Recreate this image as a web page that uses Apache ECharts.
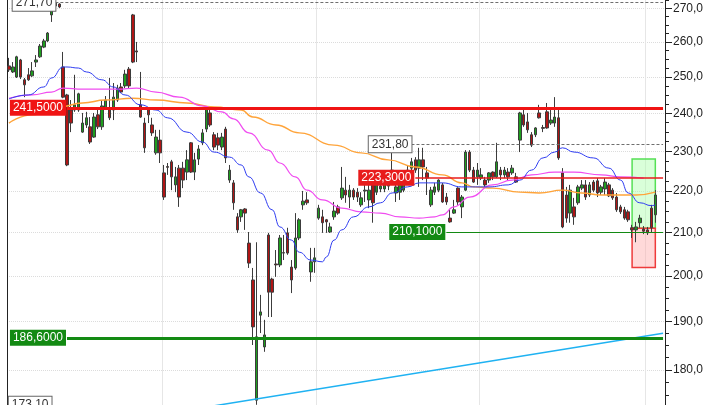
<!DOCTYPE html>
<html><head><meta charset="utf-8">
<script src="https://cdn.jsdelivr.net/npm/echarts@6/dist/echarts.min.js"></script>
<style>html,body{margin:0;padding:0;background:#fff}#c{width:720px;height:405px}</style>
</head><body><div id="c"></div>
<script>
const categories = Array.from({length: 170}, (_, i) => 'B' + (i + 1));

// [open, close, low, high]
const candles = [
[253.1,252.0,251.4,255.4],[251.4,252.8,251.1,254.2],[250.0,255.7,249.7,256.0],[254.8,250.0,249.4,255.1],
[249.2,247.8,244.4,249.7],[250.6,249.2,248.9,252.5],[250.3,251.7,250.0,254.2],[254.2,254.8,252.8,256.2],
[255.7,258.8,255.4,259.4],[258.5,260.3,258.2,260.9],[260.3,262.6,260.0,262.9],[268.0,269.5,265.9,270.1],
[271.6,270.7,270.1,271.7],[271.3,270.4,270.1,271.5],[252.8,244.4,244.1,257.1],[245.0,226.5,226.2,245.3],
[240.9,237.4,235.0,243.6],[240.9,242.3,240.4,250.6],[240.9,245.3,240.4,245.6],[235.0,237.4,234.8,240.1],
[236.9,238.8,236.1,240.4],[236.4,232.4,231.9,239.0],[233.7,239.0,233.5,240.1],[239.6,236.4,235.8,240.9],
[236.4,242.0,235.6,243.6],[241.4,243.6,240.9,244.7],[241.4,238.8,238.2,249.7],[240.9,244.4,238.2,248.3],
[243.6,246.9,243.1,247.8],[247.2,245.8,245.5,248.3],[247.5,250.8,246.9,252.0],[252.2,247.5,246.9,252.8],
[268.0,254.2,253.9,268.3],[257.4,257.1,254.2,260.0],[242.3,239.0,238.8,251.4],[237.4,230.9,229.6,238.8],
[241.4,239.6,237.4,241.7],[236.9,234.8,234.0,238.8],[229.6,233.7,229.1,235.6],[232.9,229.6,227.0,235.6],
[224.5,218.5,217.8,226.5],[226.1,225.9,224.0,227.0],[227.3,223.5,220.2,227.8],[221.5,223.5,219.7,226.0],
[225.7,218.5,216.1,226.5],[225.7,222.7,220.7,227.3],[224.7,227.8,222.7,230.3],[232.2,224.7,224.5,232.4],
[224.7,227.8,222.7,229.6],[228.0,230.6,226.5,231.6],[232.2,234.8,231.6,235.8],[235.8,241.2,235.0,241.7],
[240.1,236.9,236.4,241.7],[234.3,231.1,230.3,235.0],[233.5,231.6,230.3,234.8],[231.1,233.7,230.3,234.8],
[235.8,228.3,227.0,236.4],[222.7,225.2,222.0,226.5],[222.0,217.1,215.4,222.7],[213.7,210.6,209.9,214.6],
[213.7,215.4,212.5,215.6],[215.6,214.6,210.6,215.8],[207.5,202.9,201.8,210.1],[199.1,188.9,185.1,201.8],
[174.0,186.8,173.1,207.7],[191.4,192.1,187.6,195.8],[184.7,187.2,183.7,190.4],[209.4,196.4,191.0,209.9],
[199.3,196.4,191.0,199.6],[202.7,202.5,199.8,205.9],[202.5,208.7,202.0,209.4],[205.3,205.2,203.6,209.4],
[209.9,205.2,204.8,211.1],[202.0,199.1,196.2,203.6],[201.8,208.7,201.4,214.6],[208.7,213.0,208.2,213.4],
[216.6,217.5,215.4,220.0],[217.8,217.1,216.6,219.7],[200.9,203.2,198.7,206.4],[203.2,204.1,200.7,206.4],
[213.4,215.8,213.0,216.6],[213.7,212.3,209.9,215.4],[213.0,212.5,209.9,213.2],[210.1,211.3,209.9,212.3],
[213.7,215.1,213.0,217.3],[216.1,214.6,214.2,216.6],[218.3,220.7,217.8,226.0],[220.2,219.0,217.1,223.5],
[218.5,220.2,215.8,221.5],[220.2,218.5,217.8,220.7],[219.7,218.5,217.3,220.7],[216.6,218.3,216.1,219.7],
[220.0,220.2,217.3,221.5],[217.8,220.2,215.8,221.5],[221.5,217.1,212.3,221.7],[219.7,221.5,219.0,222.0],
[220.5,221.2,219.7,222.0],[220.5,222.0,219.7,222.7],[221.2,222.7,220.2,223.7],[223.7,225.2,223.2,229.6],
[219.5,221.0,217.3,224.0],[219.7,222.0,217.8,224.5],[220.2,222.7,219.7,223.7],[223.7,225.2,222.7,226.5],
[225.7,227.3,224.7,228.3],[227.8,225.2,224.5,228.5],[225.7,227.8,221.0,230.9],[227.8,226.0,222.7,230.9],
[224.5,223.2,219.0,226.0],[216.6,220.2,216.1,221.0],[219.7,221.0,219.0,222.0],[220.2,222.7,219.7,222.9],
[221.5,217.3,217.1,222.0],[218.5,217.3,216.6,219.5],[213.4,212.5,212.3,215.4],[214.6,215.4,214.4,217.8],
[220.7,217.3,216.6,220.9],[216.1,218.5,213.4,219.0],[220.2,229.8,220.0,230.3],[229.8,225.2,224.7,230.3],
[225.2,222.2,222.0,226.0],[223.5,225.2,221.5,227.0],[223.2,224.0,222.7,225.7],[222.7,221.5,221.0,223.5],
[222.7,224.5,222.0,224.7],[224.7,223.5,222.7,224.9],[223.5,227.3,223.2,232.2],[225.2,224.0,222.7,226.0],
[224.0,225.2,223.2,226.0],[224.7,223.5,222.7,225.7],[224.5,225.7,224.0,226.5],[223.5,222.2,222.0,224.5],
[232.9,240.1,229.8,240.4],[239.6,236.9,236.4,241.7],[237.7,235.6,234.8,240.1],[234.3,231.6,231.1,235.0],
[234.3,236.1,233.7,236.3],[240.1,238.8,238.6,242.3],[236.2,236.0,235.0,236.9],[240.4,236.1,235.9,242.8],
[237.4,238.2,236.9,240.9],[237.4,239.0,236.4,244.4],[238.8,228.3,227.8,240.9],[224.5,211.3,211.0,225.7],
[219.0,213.4,212.3,221.0],[214.6,220.2,212.3,221.5],[216.1,213.7,211.8,218.3],[217.1,221.0,216.6,221.5],
[220.7,221.5,220.2,222.7],[221.5,218.5,217.8,222.7],[219.0,221.5,218.5,222.2],[222.2,220.2,219.7,222.7],
[222.5,219.5,218.5,223.2],[219.7,221.0,219.0,221.5],[220.5,222.2,219.0,223.2],[221.5,218.8,218.5,222.0],
[220.2,218.3,217.8,220.7],[218.5,215.4,214.9,219.5],[216.1,214.9,214.4,216.6],[215.4,213.4,213.0,216.1],
[214.9,213.0,212.5,215.4],[211.1,210.6,208.7,211.8],[210.6,211.3,207.7,212.5],[212.3,213.4,211.1,214.2],
[210.8,210.3,209.6,211.5],[210.6,209.9,209.4,211.3],[215.8,211.1,210.1,216.6],[214.2,219.0,212.3,220.2]
];

// moving averages: [barIndex, price]
const maFast = [[0,243.9],[5,245.0],[9,247.2],[11,249.7],[14,252.8],[15,252.8],[18,252.5],[20,251.4],[24,249.2],
[27,247.2],[30,245.0],[34,242.3],[38,240.9],[41,238.8],[46,235.0],[50,232.4],[53,229.8],[57,228.5],[60,226.5],
[62,223.5],[65,219.5],[68,215.4],[70,211.3],[73,208.2],[75,205.4],[78,203.6],[81,203.2],[82,204.3],[84,208.2],
[86,210.6],[89,213.7],[93,216.1],[96,217.1],[99,219.5],[103,221.0],[106,222.0],[112,222.0],[117,221.0],
[124,221.0],[129,221.5],[132,222.7],[135,225.2],[138,228.3],[141,229.8],[143,230.9],[146,229.8],[151,228.3],
[155,225.7],[158,222.7],[160,219.5],[163,217.1],[166,216.4],[167,216.6]];
const maMid = [[0,244.1],[6,245.0],[11,245.8],[14,246.9],[19,246.6],[28,246.6],[33,246.9],[38,245.8],[44,244.4],
[50,242.0],[55,240.4],[58,238.5],[62,234.8],[67,230.3],[70,227.0],[74,223.5],[77,220.2],[81,217.8],[86,215.8],
[91,214.9],[96,214.6],[101,213.7],[106,213.4],[110,213.7],[112,214.2],[115,216.1],[119,218.5],[125,221.5],
[130,222.7],[135,224.0],[141,224.7],[146,224.7],[153,224.0],[158,223.5],[164,223.2]];
const maSlow = [[0,237.4],[6,239.6],[13,241.7],[19,242.8],[25,243.6],[32,244.1],[38,243.6],[46,242.8],[53,241.7],
[60,240.9],[63,239.0],[69,236.9],[75,234.8],[84,231.6],[91,229.6],[98,227.8],[105,226.0],[112,224.0],[117,222.0],
[120,221.0],[125,220.7],[132,219.7],[137,219.5],[143,220.2],[148,219.5],[153,219.0],[162,219.0],[167,219.7]];
const trendLine = [[53,172.9],[169,187.56]];

const levelValues = [241.5, 223.3, 210.1, 186.6];
const levelLabels = ['241,5000', '223,3000', '210,1000', '186,6000'];
const levelStarts = [15, 105, 113, 15];
const markValues = [271.7, 231.8, 173.1];
const markLabels = ['271,70', '231,80', '173,10'];
const markStarts = [12, 104, 11];
const lastBar = 169;

const profitZone = [[161, 228.0], [167, 211.0]];
const lossZone = [[161, 211.0], [167, 201.9]];

const majorTicks = [180, 190, 200, 210, 220, 230, 240, 250, 260, 270];
const minorTicks = [175, 177.5, 182.5, 185, 187.5, 192.5, 195, 197.5, 202.5, 205, 207.5, 212.5, 215, 217.5,
  222.5, 225, 227.5, 232.5, 235, 237.5, 242.5, 245, 247.5, 252.5, 255, 257.5, 262.5, 265, 267.5, 272.5];
const monthBreaks = [40, 80, 122, 165];
const yMin = 173.06, yMax = 272.52;

const L = Math.log;
const FONT = 'Liberation Sans, Arial, sans-serif';
const lg = p => p.map(([i, v]) => [i, L(v)]);

const levelColors = ['#f01414', '#e81c1c', '#138a13', '#138a13'];
const levelWidths = [3, 1.5, 1, 3];
const levelLines = levelValues.map((v, k) => [
  {coord: [levelStarts[k], L(v)],
   lineStyle: {color: levelColors[k], width: levelWidths[k], type: 'solid'},
   label: {show: true, position: 'start', distance: 1, formatter: levelLabels[k],
     color: '#fff', backgroundColor: levelColors[k], padding: [2, 3, 1, 3],
     fontSize: 12, lineHeight: 13, fontFamily: FONT}},
  {coord: [lastBar, L(v)]}
]);
const markLines = markValues.map((v, k) => [
  {coord: [markStarts[k], L(v)],
   lineStyle: {color: '#6e6e6e', width: 1, type: [3, 2]},
   label: {show: true, position: 'start', distance: 0, formatter: markLabels[k],
     color: '#333', backgroundColor: '#fff', borderColor: '#666', borderWidth: 1,
     padding: [2, 3, 1, 3], fontSize: 12, lineHeight: 13, fontFamily: FONT}},
  {coord: [lastBar, L(v)]}
]);

const baseY = {type: 'value', min: L(yMin), max: L(yMax)};
const chart = echarts.init(document.getElementById('c'));
chart.setOption({
  animation: false,
  backgroundColor: '#fff',
  grid: {left: 7, right: 55, top: 0, bottom: 0},
  xAxis: {
    type: 'category', data: categories, boundaryGap: true,
    axisLine: {show: false}, axisTick: {show: false}, axisLabel: {show: false},
    splitLine: {show: true, interval: (i) => monthBreaks.includes(i), lineStyle: {color: '#e6e6e6', width: 1}}
  },
  yAxis: [
    Object.assign({}, baseY, {
      position: 'right',
      axisLine: {show: true, lineStyle: {color: '#222', width: 1}},
      axisTick: {show: true, length: 7, customValues: majorTicks.map(L), lineStyle: {color: '#222'}},
      axisLabel: {show: true, customValues: majorTicks.map(L), margin: 8, color: '#222', fontSize: 12, fontFamily: FONT,
        formatter: v => Math.exp(v).toFixed(1).replace('.', ',')},
      splitLine: {show: true, lineStyle: {color: '#dcdcdc', type: 'dotted', width: 1}}
    }),
    Object.assign({}, baseY, {
      position: 'left',
      axisLine: {show: true, lineStyle: {color: '#222', width: 1}},
      axisTick: {show: false}, axisLabel: {show: false}, splitLine: {show: false}
    }),
    Object.assign({}, baseY, {
      position: 'right',
      axisLine: {show: false},
      axisTick: {show: true, length: 4, customValues: minorTicks.map(L), lineStyle: {color: '#222'}},
      axisLabel: {show: false}, splitLine: {show: false}
    })
  ],
  series: [
    {
      type: 'line', data: [], z: 1, silent: true,
      markArea: {silent: true, data: [
        [{coord: [profitZone[0][0], L(profitZone[0][1])], itemStyle: {color: 'rgba(170,255,170,0.45)', borderColor: '#55e055', borderWidth: 1.5}},
         {coord: [profitZone[1][0], L(profitZone[1][1])]}],
        [{coord: [lossZone[0][0], L(lossZone[0][1])], itemStyle: {color: 'rgba(255,170,170,0.45)', borderColor: '#ee3b3b', borderWidth: 1.5}},
         {coord: [lossZone[1][0], L(lossZone[1][1])]}]
      ]}
    },
    {
      type: 'candlestick', z: 2, barWidth: 3,
      data: candles.map(d => d.map(L)),
      itemStyle: {color: '#1e9e1e', color0: '#b01515', borderColor: '#3c3c3c', borderColor0: '#3c3c3c', borderWidth: 1}
    },
    {type: 'line', z: 3, data: lg(maSlow), showSymbol: false, smooth: true, smoothMonotone: 'x',
      lineStyle: {color: '#ffa43a', width: 1.4}},
    {type: 'line', z: 3, data: lg(maMid), showSymbol: false, smooth: true, smoothMonotone: 'x',
      lineStyle: {color: '#f04cf0', width: 1.2}},
    {type: 'line', z: 3, data: lg(maFast), showSymbol: false, smooth: true, smoothMonotone: 'x',
      lineStyle: {color: '#2f3df2', width: 1}},
    {type: 'line', z: 4, data: lg(trendLine), showSymbol: false,
      lineStyle: {color: '#1fb2f2', width: 1.5}},
    {
      type: 'line', z: 5, data: [], silent: true,
      markLine: {silent: true, symbol: ['none', 'none'], animation: false,
        data: markLines.concat(levelLines)}
    }
  ]
});
</script></body></html>
